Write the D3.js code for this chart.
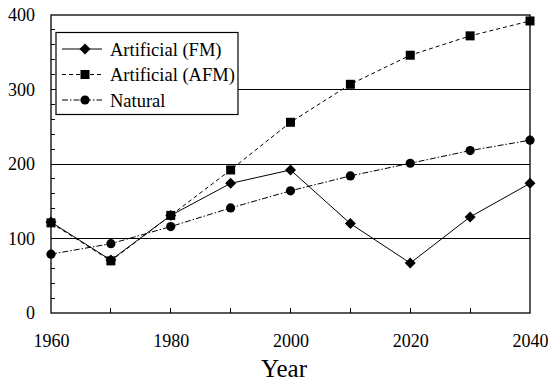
<!DOCTYPE html>
<html>
<head>
<meta charset="utf-8">
<script src="https://cdn.jsdelivr.net/npm/d3@7"></script>
<style>
  html, body { margin: 0; padding: 0; background: #fff; }
  svg { display: block; font-family: "Liberation Serif", "Times New Roman", serif; }
</style>
</head>
<body>
<svg id="chart" width="548" height="381"></svg>
<script>
// Projected counts by year for three scenarios
const years = [1960, 1970, 1980, 1990, 2000, 2010, 2020, 2030, 2040];
const artificialFM  = [122, 71, 131, 174, 192, 120, 67, 129, 174];
const artificialAFM = [121, 70, 131, 192, 256, 307, 346, 372, 392];
const natural       = [79, 93, 116, 141, 164, 184, 201, 218, 232];

const xTickValues = [1960, 1980, 2000, 2020, 2040];
const yTickValues = [0, 100, 200, 300, 400];
const gridValues = [100, 200, 300];

const series = [
  { name: "Artificial (FM)",  values: artificialFM,  dash: null,        marker: "diamond" },
  { name: "Artificial (AFM)", values: artificialAFM, dash: "4,3",       marker: "square" },
  { name: "Natural",          values: natural,       dash: "6,2,1.5,2", marker: "circle" }
];

const svg = d3.select("#chart");
const plotLeft = 51, plotRight = 530, plotTop = 15, plotBottom = 313;

const x = d3.scaleLinear().domain([1960, 2040]).range([plotLeft, plotRight]);
const y = d3.scaleLinear().domain([0, 400]).range([plotBottom, plotTop]);

// Horizontal grid lines
svg.append("g").selectAll("line").data(gridValues).join("line")
  .attr("x1", plotLeft).attr("x2", plotRight)
  .attr("y1", d => y(d)).attr("y2", d => y(d))
  .attr("stroke", "#000").attr("stroke-width", 1).attr("shape-rendering", "crispEdges");

// Plot frame
svg.append("rect")
  .attr("x", plotLeft).attr("y", plotTop)
  .attr("width", plotRight - plotLeft).attr("height", plotBottom - plotTop)
  .attr("fill", "none").attr("stroke", "#000").attr("stroke-width", 1.3);

// Y axis: inward ticks every 20, labels every 100
const yAxis = d3.axisLeft(y).tickValues(yTickValues).tickSize(0).tickPadding(16).tickFormat(d3.format("d"));
const gy = svg.append("g").attr("transform", `translate(${plotLeft},0)`).call(yAxis);
gy.select(".domain").remove();
gy.selectAll("text").attr("font-size", 18).attr("font-family", "Liberation Serif").attr("fill", "#000");
svg.append("g").selectAll("line").data(d3.range(20, 400, 20)).join("line")
  .attr("x1", plotLeft).attr("x2", plotLeft + 4)
  .attr("y1", d => y(d)).attr("y2", d => y(d))
  .attr("stroke", "#000").attr("shape-rendering", "crispEdges");

// X axis: inward ticks every 10 years
const xAxis = d3.axisBottom(x).tickValues(xTickValues).tickSize(0).tickPadding(21).tickFormat(d3.format("d"));
const gx = svg.append("g").attr("transform", `translate(0,${plotBottom})`).call(xAxis);
gx.select(".domain").remove();
gx.selectAll("text").attr("font-size", 18).attr("font-family", "Liberation Serif").attr("fill", "#000");
svg.append("g").selectAll("line").data(years.slice(1, -1)).join("line")
  .attr("x1", d => x(d)).attr("x2", d => x(d))
  .attr("y1", plotBottom).attr("y2", plotBottom - 5)
  .attr("stroke", "#000").attr("shape-rendering", "crispEdges");

svg.append("text")
  .attr("x", 284).attr("y", 377)
  .attr("text-anchor", "middle")
  .attr("font-size", 25)
  .text("Year");

// Marker shapes
function drawMarker(g, type, cx, cy) {
  if (type === "diamond") {
    g.append("path").attr("d", `M${cx},${cy - 5.5}L${cx + 5.5},${cy}L${cx},${cy + 5.5}L${cx - 5.5},${cy}Z`).attr("fill", "#000");
  } else if (type === "square") {
    g.append("rect").attr("x", cx - 4.5).attr("y", cy - 4.5).attr("width", 9).attr("height", 9).attr("fill", "#000");
  } else {
    g.append("circle").attr("cx", cx).attr("cy", cy).attr("r", 4.6).attr("fill", "#000");
  }
}

const line = d3.line().x(d => x(d[0])).y(d => y(d[1]));

// Draw in reverse so the FM line sits on top
[...series].reverse().forEach(s => {
  const pts = years.map((yr, i) => [yr, s.values[i]]);
  const g = svg.append("g");
  g.append("path").attr("d", line(pts))
    .attr("fill", "none").attr("stroke", "#000").attr("stroke-width", 1)
    .attr("stroke-dasharray", s.dash);
  pts.forEach(p => drawMarker(g, s.marker, x(p[0]), y(p[1])));
});

// Legend
const legend = svg.append("g");
legend.append("rect").attr("x", 56).attr("y", 32.5).attr("width", 182).attr("height", 82)
  .attr("fill", "#fff").attr("stroke", "#000").attr("stroke-width", 1.2);
series.forEach((s, i) => {
  const ly = 49 + i * 25.5;
  legend.append("line").attr("x1", 62).attr("x2", 102).attr("y1", ly).attr("y2", ly)
    .attr("stroke", "#000").attr("stroke-width", 1).attr("stroke-dasharray", s.dash);
  drawMarker(legend, s.marker, 85, ly);
  legend.append("text").attr("x", 110).attr("y", ly + 6.5)
    .attr("font-size", 18.5).text(s.name);
});
</script>
</body>
</html>
